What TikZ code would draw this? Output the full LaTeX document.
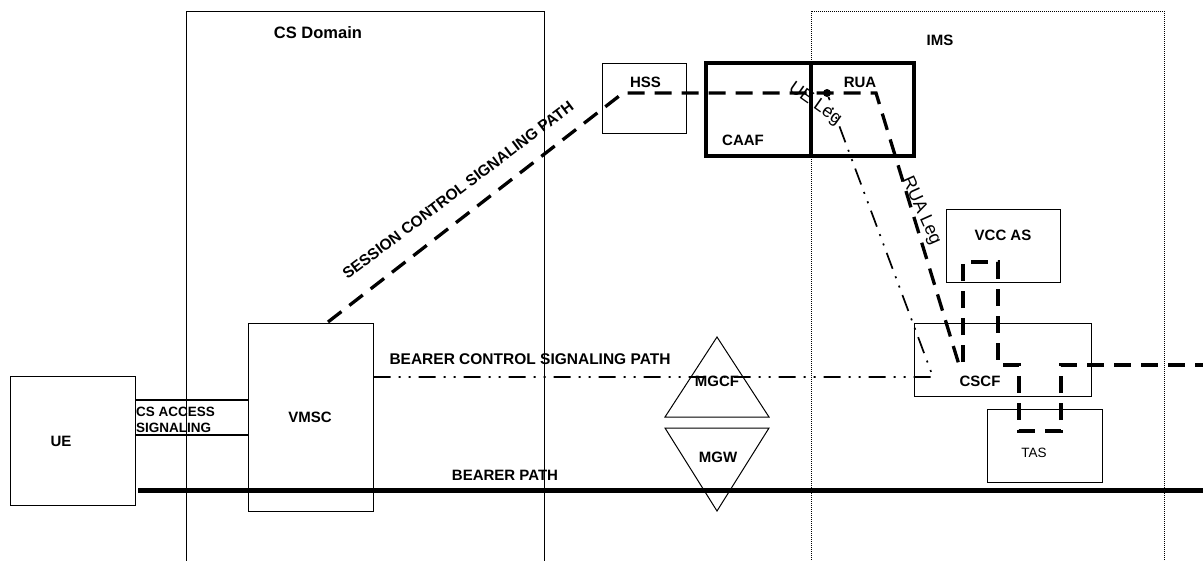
\documentclass[tikz,border=0pt]{standalone}
\usepackage{fontspec}
\setmainfont{Liberation Sans}
\begin{document}
\begin{tikzpicture}[x=1pt,y=-1pt,
  box/.style={draw, line width=1pt, inner sep=0pt},
  thickbox/.style={draw, line width=3.2pt, inner sep=0pt},
  region/.style={draw, line width=0.9pt, inner sep=0pt},
  lbl/.style={font=\bfseries\fontsize{15}{18}\selectfont, inner sep=0pt},
  small/.style={font=\bfseries\fontsize{13.5}{16}\selectfont, inner sep=0pt},
  leg/.style={font=\fontsize{18}{21}\selectfont, inner sep=0pt},
  sig/.style={line width=3.3pt, dash pattern=on 17pt off 10pt},
  ctl/.style={line width=1.7pt, dash pattern=on 17pt off 8pt on 2pt off 8pt on 2pt off 8pt},
  bearer/.style={line width=5pt},
  access/.style={line width=2pt}]
\clip (0,0) rectangle (1203,560);
\fill[white] (0,0) rectangle (1203,560);

% regions
\node[region, minimum width=358pt, minimum height=570pt] (csd) at (365,296) {};
\node[region, dash pattern=on 1pt off 1pt, minimum width=353pt, minimum height=570pt] (ims) at (987.5,296) {};
\node[lbl, font=\bfseries\fontsize{16.5}{19}\selectfont] (csdl) at (318,32.5) {CS Domain};
\node[lbl] (imsl) at (940,40.5) {IMS};

% boxes
\node[box, minimum width=125pt, minimum height=129pt] (ue) at (72.5,440.5) {};
\node[lbl] (uel) at (61,441.5) {UE};
\node[box, minimum width=125pt, minimum height=188pt] (vmsc) at (310.5,417) {};
\node[lbl] (vmscl) at (310,417.5) {VMSC};
\node[box, minimum width=84pt, minimum height=70pt] (hss) at (644,98) {};
\node[lbl] (hssl) at (645.5,82) {HSS};
\node[thickbox, minimum width=105pt, minimum height=93pt] (caaf) at (758.5,109.5) {};
\node[lbl] (caafl) at (743,140) {CAAF};
\node[thickbox, minimum width=103pt, minimum height=93pt] (rua) at (862.5,109.5) {};
\node[lbl] (rual) at (860,82) {RUA};
\node[box, minimum width=114pt, minimum height=73pt] (vcc) at (1003,245.5) {};
\node[lbl] (vccl) at (1003,235.5) {VCC AS};
\node[box, minimum width=177pt, minimum height=73pt] (cscf) at (1002.5,359.5) {};
\node[lbl] (cscfl) at (980,381.5) {CSCF};
\node[box, minimum width=115pt, minimum height=73pt] (tas) at (1044.5,445.5) {};
\node[font=\fontsize{13.5}{16}\selectfont, inner sep=0pt] (tasl) at (1034,453) {TAS};

% triangles
\draw[line width=1pt] (665,417) coordinate (mgcfa) -- (717,337) coordinate (mgcft) -- (769,417) -- cycle;
\node[lbl] (mgcfl) at (717,381) {MGCF};
\draw[line width=1pt] (665,428) coordinate (mgwa) -- (717,511) coordinate (mgwb) -- (769,428) -- cycle;
\node[lbl] (mgwl) at (718,457.5) {MGW};

% access signaling
\draw[access] (ue.east |- 0,400) -- (vmsc.west |- 0,400);
\draw[access] (ue.east |- 0,435) -- (vmsc.west |- 0,435);
\node[small, anchor=west] (acc1) at (136,411.5) {CS ACCESS};
\node[small, anchor=west] (acc2) at (136,427.5) {SIGNALING};

% bearer path
\coordinate (bstart) at (138,490);
\coordinate (bend) at (1203,490);
\draw[bearer] (bstart) -- (bend);
\node[lbl] (bpl) at (505,475.5) {BEARER PATH};

% dot
\node[circle, fill, inner sep=0pt, minimum size=8pt] (dot) at (827,93) {};

% bearer control signaling path
\coordinate (bc1) at (933,377);
\draw[ctl] (vmsc.east |- 0,377) -- (bc1) -- (dot);
\node[lbl, font=\bfseries\fontsize{15.5}{18}\selectfont] (bcl) at (530,359) {BEARER CONTROL SIGNALING PATH};

% session control signaling path
\coordinate (s1) at (328,322);
\coordinate (s2) at (623,93);
\coordinate (s3) at (876,93);
\coordinate (s4) at (960,368);
\draw[sig] (s1) -- (s2) -- (s3) -- (s4);
\node[lbl, font=\bfseries\fontsize{15.5}{18}\selectfont, rotate=37] (scl) at (458,190) {SESSION CONTROL SIGNALING PATH};

% loop via VCC AS and TAS
\coordinate (l0) at (963,362);
\coordinate (lend) at (1203,365);
\draw[sig] (l0) -- (963,262) -- (998,262) -- (998,365) -- (1019,365) -- (1019,431) -- (1061,431) -- (1061,365) -- (lend);

% leg labels
\node[leg, rotate=-35] (uleg) at (815,104) {UE Leg};
\node[leg, rotate=-66] (rleg) at (921,211) {RUA Leg};
\end{tikzpicture}
\end{document}
